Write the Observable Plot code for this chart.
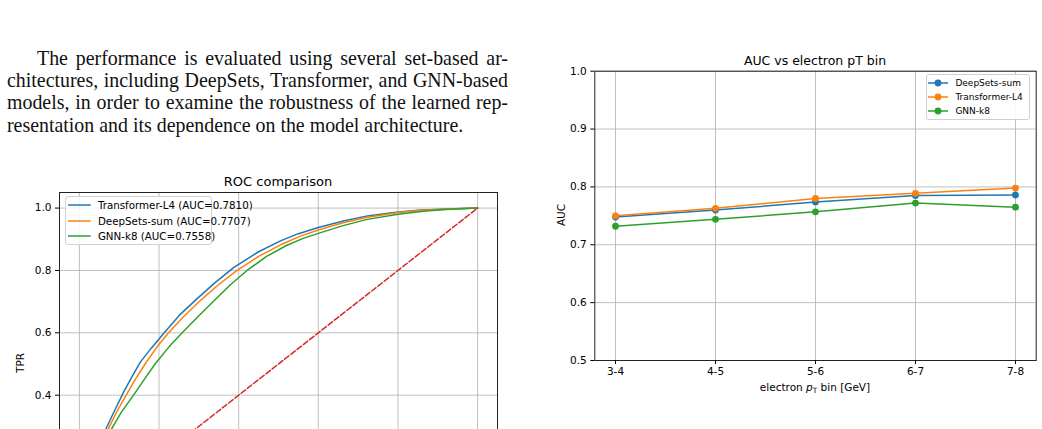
<!DOCTYPE html>
<html><head><meta charset="utf-8">
<script src="https://cdn.jsdelivr.net/npm/d3@7"></script>
<script src="https://cdn.jsdelivr.net/npm/@observablehq/plot@0.6"></script>
<style>
html,body{margin:0;padding:0;background:#fff;width:1042px;height:429px;overflow:hidden;}
body{position:relative;font-family:"DejaVu Sans",sans-serif;color:#000;}
.para{position:absolute;left:7px;width:501px;top:47px;font-family:"Liberation Serif","Times New Roman",serif;font-size:19.9px;line-height:22.2px;color:#111;}
.para .j{text-align:justify;text-align-last:justify;word-spacing:-1.5px;}
.para .first{text-indent:30px;}
.abs{position:absolute;white-space:nowrap;line-height:1;transform:translate(-50%,-50%);}
.rot{transform:translate(-50%,-50%) rotate(-90deg);}
.chart{position:absolute;overflow:hidden;}
.legend{position:absolute;box-sizing:border-box;border:1px solid #d0d0d0;border-radius:3px;background:rgba(255,255,255,0.85);}
.lrow{position:absolute;left:0;display:flex;align-items:center;white-space:nowrap;}
.lrow svg{display:block;overflow:visible;}
</style></head>
<body>
<div class="para">
<div class="j first">The performance is evaluated using several set-based ar-</div>
<div class="j">chitectures, including DeepSets, Transformer, and GNN-based</div>
<div class="j">models, in order to examine the robustness of the learned rep-</div>
<div>resentation and its dependence on the model architecture.</div>
</div>
<div id="roc" class="chart" style="left:0;top:170px;width:520px;height:259px;"></div>
<div id="auc" class="chart" style="left:540px;top:40px;"></div>
<script>
// ---------- ROC data ----------
const rocModels = ["Transformer-L4", "DeepSets-sum", "GNN-k8"];
const rocAucLabels = ["0.7810", "0.7707", "0.7558"];
const rocColors = ["#1f77b4", "#ff7f0e", "#2ca02c"];
const fprTransformer = [0, 0.01, 0.02, 0.035, 0.05, 0.067, 0.09, 0.111, 0.13, 0.153, 0.18, 0.211, 0.25, 0.295, 0.34, 0.388, 0.45, 0.505, 0.55, 0.6, 0.66, 0.723, 0.79, 0.85, 0.92, 1.0];
const tprTransformer = [0, 0.07, 0.12, 0.18, 0.235, 0.293, 0.355, 0.41, 0.455, 0.506, 0.55, 0.597, 0.655, 0.709, 0.76, 0.81, 0.86, 0.895, 0.918, 0.938, 0.958, 0.975, 0.986, 0.993, 0.997, 1.0];
const fprDeepSets = [0, 0.01, 0.02, 0.035, 0.05, 0.073, 0.095, 0.1175, 0.14, 0.165, 0.195, 0.224, 0.26, 0.305, 0.35, 0.396, 0.45, 0.51, 0.555, 0.6, 0.66, 0.72, 0.8, 0.86, 0.93, 1.0];
const tprDeepSets = [0, 0.065, 0.115, 0.17, 0.225, 0.293, 0.35, 0.40, 0.45, 0.50, 0.555, 0.60, 0.65, 0.705, 0.755, 0.80, 0.845, 0.885, 0.91, 0.93, 0.952, 0.97, 0.986, 0.993, 0.997, 1.0];
const fprGNN = [0, 0.01, 0.02, 0.035, 0.055, 0.08, 0.105, 0.136, 0.16, 0.19, 0.225, 0.258, 0.3, 0.34, 0.38, 0.421, 0.47, 0.52, 0.56, 0.6, 0.66, 0.72, 0.8, 0.87, 0.93, 1.0];
const tprGNN = [0, 0.06, 0.105, 0.16, 0.22, 0.29, 0.345, 0.40, 0.445, 0.5, 0.555, 0.6, 0.655, 0.705, 0.755, 0.80, 0.845, 0.88, 0.902, 0.919, 0.943, 0.963, 0.98, 0.991, 0.996, 1.0];
const chanceLine = [0, 1];
const rocTicks = [0, 0.2, 0.4, 0.6, 0.8, 1.0];
const rocVisibleYTicks = [0.4, 0.6, 0.8, 1.0];   // lower tick labels fall below the page edge

// ---------- AUC vs pT data ----------
const ptBins = ["3-4", "4-5", "5-6", "6-7", "7-8"];
const aucModels = ["DeepSets-sum", "Transformer-L4", "GNN-k8"];
const aucColors = ["#1f77b4", "#ff7f0e", "#2ca02c"];
const aucDeepSets = [0.748, 0.760, 0.774, 0.785, 0.786];
const aucTransformer = [0.750, 0.763, 0.780, 0.789, 0.798];
const aucGNN = [0.732, 0.744, 0.757, 0.772, 0.765];
const aucTicks = [0.5, 0.6, 0.7, 0.8, 0.9, 1.0];

const fontStyle = {fontFamily: "'DejaVu Sans', sans-serif", fontSize: "10.5px", color: "#000", background: "transparent", overflow: "visible"};
const gridStyle = {stroke: "#b0b0b0", strokeOpacity: 0.8, strokeWidth: 1};

// ROC rows
const rocSeries = [[fprTransformer, tprTransformer], [fprDeepSets, tprDeepSets], [fprGNN, tprGNN]];
const rocRows = [];
rocSeries.forEach(([f, t], k) => f.forEach((v, i) => rocRows.push({model: rocModels[k], fpr: v, tpr: t[i]})));

const roc = Plot.plot({
  width: 520, height: 400,
  marginLeft: 59, marginRight: 23, marginTop: 22, marginBottom: 35,
  style: fontStyle,
  x: {domain: [-0.05, 1.05], label: null, axis: null},
  y: {domain: [-0.05, 1.05], label: null, axis: null},
  color: {domain: rocModels, range: rocColors},
  marks: [
    Plot.gridX(rocTicks, gridStyle),
    Plot.gridY(rocTicks, gridStyle),
    Plot.line(rocRows, {x: "fpr", y: "tpr", z: "model", stroke: "model", strokeWidth: 1.5}),
    Plot.line(chanceLine, {x: d => d, y: d => d, stroke: "#d62728", strokeWidth: 1.5, strokeDasharray: "5.5,2.4"}),
    Plot.frame({stroke: "#222", strokeWidth: 1}),
    Plot.axisY(rocVisibleYTicks, {tickSize: 4, tickPadding: 4, tickFormat: d3.format(".1f"), label: null})
  ]
});
document.getElementById("roc").appendChild(roc);

// AUC rows
const aucSeries = [aucDeepSets, aucTransformer, aucGNN];
const aucRows = [];
aucSeries.forEach((vals, k) => vals.forEach((v, i) => aucRows.push({model: aucModels[k], bin: ptBins[i], auc: v})));

const auc = Plot.plot({
  width: 502, height: 370,
  marginLeft: 54.3, marginRight: 6.3, marginTop: 30.7, marginBottom: 50,
  style: fontStyle,
  x: {type: "point", domain: ptBins, padding: 0.2, label: null},
  y: {domain: [0.5, 1.0], label: null},
  color: {domain: aucModels, range: aucColors},
  marks: [
    Plot.gridX(ptBins, gridStyle),
    Plot.gridY(aucTicks, gridStyle),
    Plot.line(aucRows, {x: "bin", y: "auc", z: "model", stroke: "model", strokeWidth: 1.5}),
    Plot.dot(aucRows, {x: "bin", y: "auc", fill: "model", r: 3.4}),
    Plot.frame({stroke: "#222", strokeWidth: 1}),
    Plot.axisX(ptBins, {tickSize: 4, tickPadding: 3, label: null}),
    Plot.axisY(aucTicks, {tickSize: 4, tickPadding: 4, tickFormat: d3.format(".1f"), label: null})
  ]
});
document.getElementById("auc").appendChild(auc);

// ---------- HTML text: titles, axis labels, legends ----------
function addText(html, x, y, size, rotate) {
  const d = document.createElement("div");
  d.className = "abs" + (rotate ? " rot" : "");
  d.style.left = x + "px"; d.style.top = y + "px"; d.style.fontSize = size + "px";
  d.innerHTML = html;
  document.body.appendChild(d);
}
addText("ROC comparison", 278, 180.7, 13, false);
addText("TPR", 20, 363.4, 10.5, true);
addText("AUC vs electron pT bin", 815, 60.7, 12.5, false);
addText("AUC", 560.7, 215.3, 10.5, true);
addText("electron <i>p</i><sub style='font-size:0.7em;vertical-align:-0.25em;line-height:0'>T</sub> bin [GeV]", 815, 386.7, 10.5, false);

function addLegend(box, labels, colors, marker, opts) {
  const L = document.createElement("div");
  L.className = "legend";
  Object.assign(L.style, {left: box[0] + "px", top: box[1] + "px", width: box[2] + "px", height: box[3] + "px", fontSize: opts.size + "px"});
  labels.forEach((lab, i) => {
    const r = document.createElement("div");
    r.className = "lrow";
    Object.assign(r.style, {top: (opts.top + i * opts.step) + "px", height: opts.step + "px", left: opts.padLeft + "px"});
    const h = opts.handle;
    r.innerHTML = `<svg width="${h}" height="8" viewBox="0 0 ${h} 8"><line x1="0" x2="${h}" y1="4" y2="4" stroke="${colors[i]}" stroke-width="1.5"/>` +
      (marker ? `<circle cx="${h / 2}" cy="4" r="3.4" fill="${colors[i]}"/>` : "") + `</svg>`;
    const t = document.createElement("span");
    t.style.marginLeft = opts.gap + "px"; t.textContent = lab;
    r.appendChild(t);
    L.appendChild(r);
  });
  document.body.appendChild(L);
}
addLegend([65, 196, 146.7, 49], rocModels.map((m, i) => `${m} (AUC=${rocAucLabels[i]})`), rocColors, false,
  {size: 10.3, top: 0.7, step: 15.35, padLeft: 1.5, handle: 22.7, gap: 7.7});
addLegend([925.7, 74.3, 104.3, 45.7], aucModels, aucColors, true,
  {size: 9, top: 1, step: 14, padLeft: 1.3, handle: 20, gap: 7.4});
</script>
</body></html>
